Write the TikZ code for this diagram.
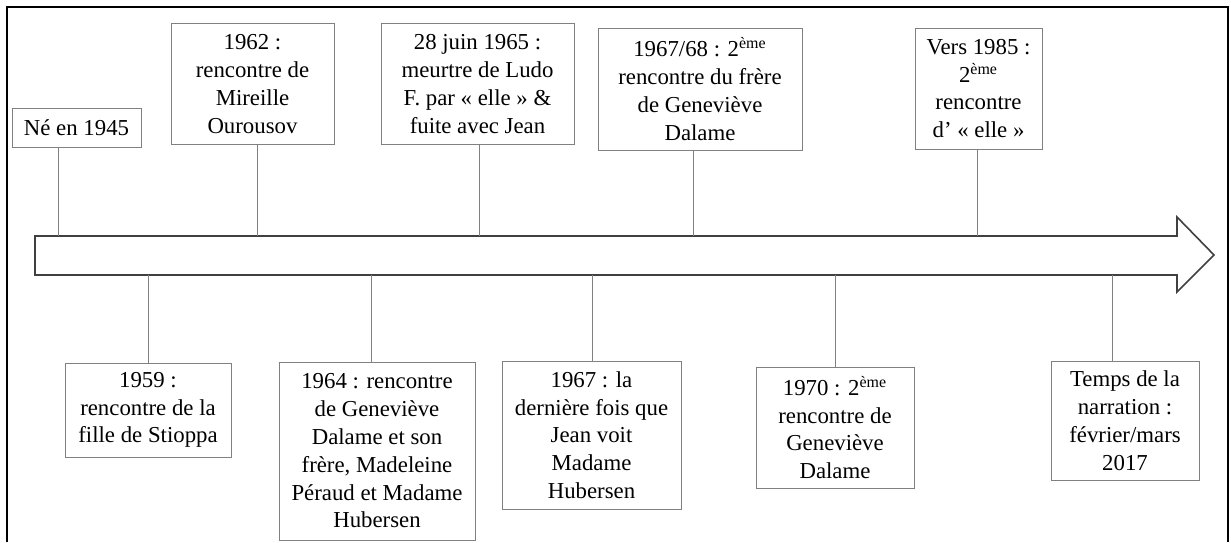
\documentclass[tikz,border=0pt]{standalone}
\usepackage{fontspec}
\setmainfont{Liberation Serif}
\usepackage{tikz}
\newcommand{\eme}{\textsuperscript{ème}}
\tikzset{
  evt/.style={draw=black!50, line width=0.5pt, align=center, inner sep=0pt,
    font=\fontsize{11.4pt}{13.9pt}\selectfont},
  tick/.style={draw=black!50, line width=0.5pt},
}

\begin{document}
\begin{tikzpicture}[x=0.5pt, y=-0.5pt]
  \useasboundingbox (0,0) rectangle (1231,542);

  % frame (cut at the bottom)
  \draw[line width=1pt] (7,542) -- (7,7) -- (1228,7) -- (1228,542);

  % time arrow
  \draw[draw=black!75, line width=0.8pt] (35,236) -- (1177,236) -- (1177,217) -- (1214,255)
    -- (1177,292) -- (1177,275) -- (35,275) -- cycle;

  %% above the arrow
  \node[evt, minimum width=64.5pt, minimum height=19.5pt] (ne) at (76.5,127.5) {Né en 1945};
  \node[evt, minimum width=81.5pt, minimum height=60.75pt] (b62) at (252.5,84)
    {1962 :\\rencontre de\\Mireille\\Ourousov};
  \node[evt, minimum width=96.5pt, minimum height=60.75pt] (b65) at (477.5,84)
    {28 juin 1965 :\\meurtre de Ludo\\F. par « elle » \&\\fuite avec Jean};
  \node[evt, minimum width=102pt, minimum height=61pt] (b6768) at (700,89)
    {1967/68 : 2\eme\\rencontre du frère\\de Geneviève\\Dalame};
  \node[evt, minimum width=63.5pt, minimum height=60.5pt] (b85) at (978.5,88.5)
    {Vers 1985 :\\2\eme\\rencontre\\d’ « elle »};

  %% below the arrow
  \node[evt, minimum width=83pt, minimum height=47pt] (b59) at (148,410)
    {1959 :\\rencontre de la\\fille de Stioppa};
  \node[evt, minimum width=98pt, minimum height=89pt] (b64) at (377,451)
    {1964 : rencontre\\de Geneviève\\Dalame et son\\frère, Madeleine\\Péraud et Madame\\Hubersen};
  \node[evt, minimum width=89.5pt, minimum height=74pt] (b67) at (591.5,435)
    {1967 : la\\dernière fois que\\Jean voit\\Madame\\Hubersen};
  \node[evt, minimum width=79pt, minimum height=60.5pt] (b70) at (835,427.5)
    {1970 : 2\eme\\rencontre de\\Geneviève\\Dalame};
  \node[evt, minimum width=74pt, minimum height=59.5pt] (temps) at (1125,420.5)
    {Temps de la\\narration :\\février/mars\\2017};

  % points on the arrow
  \coordinate (t-ne) at (58,236);
  \coordinate (t-62) at (257,236);
  \coordinate (t-65) at (479,236);
  \coordinate (t-6768) at (693,236);
  \coordinate (t-85) at (977,236);
  \coordinate (t-59) at (148,275);
  \coordinate (t-64) at (371,275);
  \coordinate (t-67) at (592,275);
  \coordinate (t-70) at (835,275);
  \coordinate (t-temps) at (1112,275);

  \draw[tick] (t-ne) -- (t-ne |- ne.south); % 1945
  \draw[tick] (t-62) -- (t-62 |- b62.south); % 1962
  \draw[tick] (t-65) -- (t-65 |- b65.south); % 1965
  \draw[tick] (t-6768) -- (t-6768 |- b6768.south); % 1967/68
  \draw[tick] (t-85) -- (t-85 |- b85.south); % 1985
  \draw[tick] (t-59) -- (t-59 |- b59.north); % 1959
  \draw[tick] (t-64) -- (t-64 |- b64.north); % 1964
  \draw[tick] (t-67) -- (t-67 |- b67.north); % 1967
  \draw[tick] (t-70) -- (t-70 |- b70.north); % 1970
  \draw[tick] (t-temps) -- (t-temps |- temps.north); % 2017
\end{tikzpicture}
\end{document}
